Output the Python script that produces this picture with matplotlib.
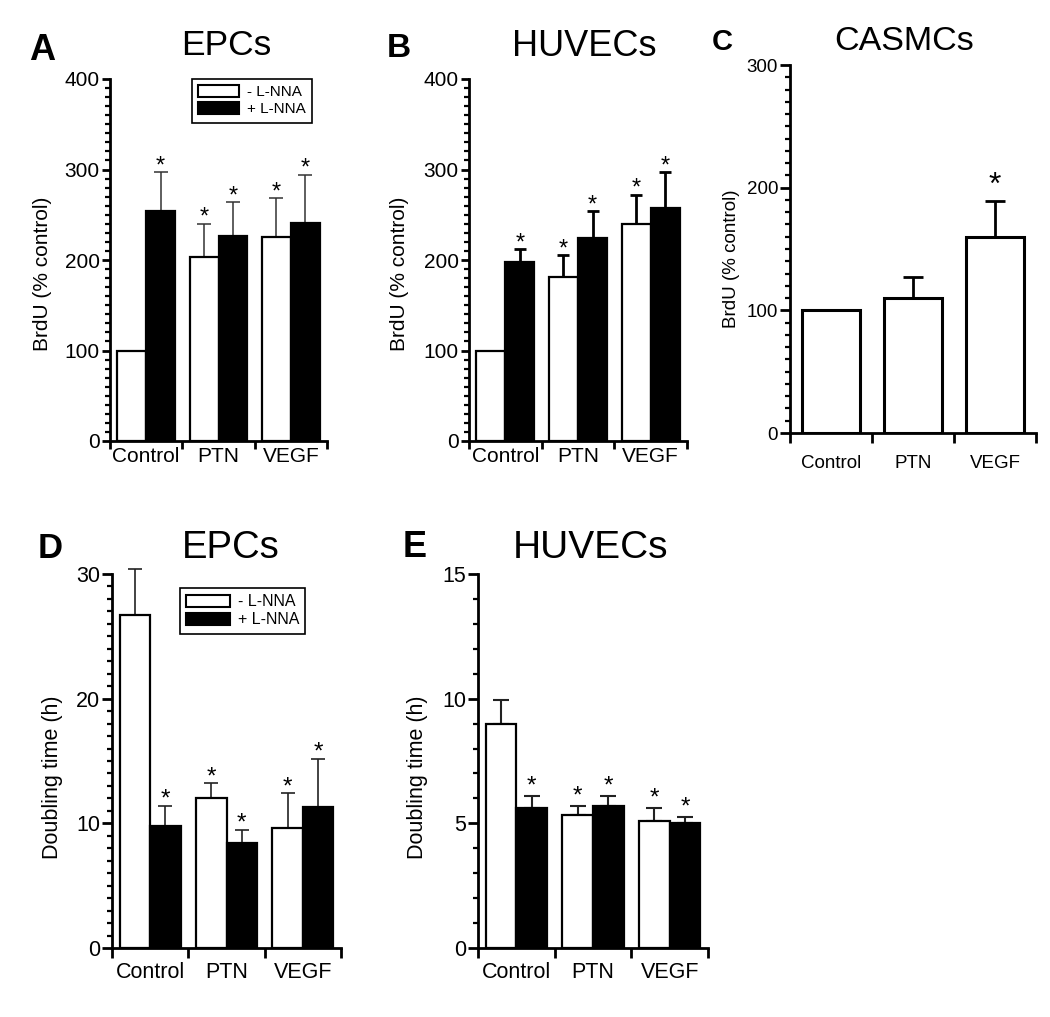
import matplotlib
matplotlib.use("Agg")
import matplotlib.pyplot as plt
from matplotlib.patches import Patch
from matplotlib.ticker import MultipleLocator, FixedLocator, FixedFormatter, NullFormatter
import numpy as np

plt.rcParams['font.family'] = ['Liberation Sans', 'DejaVu Sans']

categories = ["Control", "PTN", "VEGF"]
legend_labels = ["- L-NNA", "+ L-NNA"]

# Panel A: EPCs BrdU
A_minus = [100, 203, 225]
A_minus_err = [0, 37, 43]
A_plus = [254, 226, 241]
A_plus_err = [43, 38, 53]
A_minus_star = [False, True, True]
A_plus_star = [True, True, True]

# Panel B: HUVECs BrdU
B_minus = [100, 181, 240]
B_minus_err = [0, 24, 32]
B_plus = [198, 224, 257]
B_plus_err = [14, 30, 40]
B_minus_star = [False, True, True]
B_plus_star = [True, True, True]

# Panel C: CASMCs BrdU
C_vals = [100, 110, 160]
C_err = [0, 17, 29]
C_star = [False, False, True]

# Panel D: EPCs doubling time
D_minus = [26.7, 12.0, 9.6]
D_minus_err = [3.7, 1.2, 2.8]
D_plus = [9.8, 8.4, 11.3]
D_plus_err = [1.6, 1.1, 3.9]
D_minus_star = [False, True, True]
D_plus_star = [True, True, True]

# Panel E: HUVECs doubling time
E_minus = [9.0, 5.35, 5.1]
E_minus_err = [0.93, 0.33, 0.51]
E_plus = [5.6, 5.7, 5.0]
E_plus_err = [0.5, 0.4, 0.25]
E_minus_star = [False, True, True]
E_plus_star = [True, True, True]

W, H = 1050, 1017
fig = plt.figure(figsize=(W / 100, H / 100), dpi=100)


def add_ax(left, top, right, bottom):
    return fig.add_axes([left / W, 1 - bottom / H, (right - left) / W, (bottom - top) / H])


def style_axes(ax, ymax, ymajor, yminor, fs, xpad, ylabel, ylab_xy, tick_len=6):
    ax.set_xlim(0, 3)
    ax.set_ylim(0, ymax)
    for s in ['top', 'right']:
        ax.spines[s].set_visible(False)
    for s in ['left', 'bottom']:
        ax.spines[s].set_linewidth(2.0)
    ax.yaxis.set_major_locator(MultipleLocator(ymajor))
    ax.yaxis.set_minor_locator(MultipleLocator(yminor))
    ax.tick_params(axis='y', which='major', direction='out', length=tick_len, width=2.0,
                   labelsize=fs, pad=1.5)
    ax.tick_params(axis='y', which='minor', direction='out', length=tick_len * 0.55, width=1.6)
    ax.xaxis.set_major_locator(FixedLocator([0, 1, 2, 3]))
    ax.xaxis.set_major_formatter(NullFormatter())
    ax.xaxis.set_minor_locator(FixedLocator([0.5, 1.5, 2.5]))
    ax.xaxis.set_minor_formatter(FixedFormatter(categories))
    ax.tick_params(axis='x', which='major', direction='out', length=tick_len, width=2.0)
    ax.tick_params(axis='x', which='minor', length=0, labelsize=fs, pad=xpad)
    ax.set_ylabel(ylabel, fontsize=fs)
    ax.yaxis.label.set_va('center')
    ax.yaxis.set_label_coords(*ylab_xy)


def draw_stars(ax, xs, tops, flags, fs, off):
    for x, t, f in zip(xs, tops, flags):
        if f:
            ax.annotate('*', (x, t), xytext=(0, off), textcoords='offset points',
                        ha='center', va='baseline', fontsize=fs, annotation_clip=False)


def draw_err(ax, xs, vals, errs, elw, ecol, cap):
    vals = np.array(vals, float)
    errs = np.array(errs, float)
    m = errs > 0
    _, caps, bars = ax.errorbar(xs[m], vals[m], yerr=[np.zeros(m.sum()), errs[m]], fmt='none',
                                ecolor=ecol, elinewidth=elw, capsize=cap, capthick=elw, zorder=2)
    for c in caps:
        c.set_clip_on(False)
    for b in bars:
        b.set_clip_on(False)


def grouped(ax, minus, minus_err, plus, plus_err, mstar, pstar, elw, ecol, cap, bar_lw,
            star_fs, star_off):
    idx = np.arange(len(categories))
    xm = idx + 0.1
    xp = idx + 0.5
    w = 0.4
    ax.bar(xm, minus, width=w, align='edge', color='white', edgecolor='black', linewidth=bar_lw, zorder=3)
    ax.bar(xp, plus, width=w, align='edge', color='black', edgecolor='black', linewidth=bar_lw, zorder=3)
    draw_err(ax, xm + w / 2, minus, minus_err, elw, ecol, cap)
    draw_err(ax, xp + w / 2, plus, plus_err, elw, ecol, cap)
    draw_stars(ax, xm + w / 2, np.array(minus) + np.array(minus_err), mstar, star_fs, star_off)
    draw_stars(ax, xp + w / 2, np.array(plus) + np.array(plus_err), pstar, star_fs, star_off)


def add_legend(ax, x0, ytop, fs):
    handles = [Patch(facecolor='white', edgecolor='black', linewidth=1.5),
               Patch(facecolor='black', edgecolor='black', linewidth=1.5)]
    leg = ax.legend(handles, legend_labels, loc='upper left', bbox_to_anchor=(x0, ytop),
                    borderaxespad=0, fontsize=fs, frameon=True, fancybox=False,
                    handlelength=2.7, handleheight=0.8, labelspacing=0.2,
                    handletextpad=0.5, borderpad=0.4)
    fr = leg.get_frame()
    fr.set_edgecolor('black')
    fr.set_linewidth(1.2)
    fr.set_alpha(1)


# ---- Panel A ----
axA = add_ax(110, 79, 327, 441)
grouped(axA, A_minus, A_minus_err, A_plus, A_plus_err, A_minus_star, A_plus_star,
        elw=1.1, ecol='#333333', cap=5, bar_lw=1.6, star_fs=17, star_off=0)
style_axes(axA, 400, 100, 10, 15, 4, 'BrdU (% control)', (-0.309, 0.461))
add_legend(axA, 0.378, 1.0, 11)

# ---- Panel B ----
axB = add_ax(469, 79, 687, 441)
grouped(axB, B_minus, B_minus_err, B_plus, B_plus_err, B_minus_star, B_plus_star,
        elw=2.0, ecol='black', cap=4.5, bar_lw=1.6, star_fs=17, star_off=0)
style_axes(axB, 400, 100, 10, 15, 4, 'BrdU (% control)', (-0.317, 0.461))

# ---- Panel C ----
axC = add_ax(790, 65, 1036, 433)
idx = np.arange(len(categories))
axC.bar(idx + 0.15, C_vals, width=0.7, align='edge', color='white', edgecolor='black',
        linewidth=2.2, zorder=3)
draw_err(axC, idx + 0.5, C_vals, C_err, 2.0, 'black', 7)
draw_stars(axC, idx + 0.5, np.array(C_vals) + np.array(C_err), C_star, 23, 5)
style_axes(axC, 300, 100, 10, 13.5, 15.5, 'BrdU (% control)', (-0.236, 0.473), tick_len=7)

# ---- Panel D ----
axD = add_ax(112, 574, 341, 948)
grouped(axD, D_minus, D_minus_err, D_plus, D_plus_err, D_minus_star, D_plus_star,
        elw=1.2, ecol='#222222', cap=4.8, bar_lw=1.6, star_fs=17.5, star_off=0)
style_axes(axD, 30, 10, 1, 15.5, 10, 'Doubling time (h)', (-0.262, 0.457), tick_len=7)
add_legend(axD, 0.297, 0.963, 11.5)

# ---- Panel E ----
axE = add_ax(478, 574, 708, 948)
grouped(axE, E_minus, E_minus_err, E_plus, E_plus_err, E_minus_star, E_plus_star,
        elw=1.5, ecol='#222222', cap=6, bar_lw=1.6, star_fs=17.5, star_off=2.5)
style_axes(axE, 15, 5, 1, 15.5, 10, 'Doubling time (h)', (-0.261, 0.457), tick_len=7)

# ---- Titles and panel letters ----
def ftext(x, y, s, fs, bold=False, ha='center'):
    fig.text(x / W, 1 - y / H, s, fontsize=fs, ha=ha, va='baseline',
             fontweight='bold' if bold else 'normal')

ftext(226, 55, 'EPCs', 25.5)
ftext(584, 56, 'HUVECs', 26)
ftext(904, 50, 'CASMCs', 24.5)
ftext(231, 558, 'EPCs', 27.5)
ftext(590, 558, 'HUVECs', 28)

ftext(29, 60, 'A', 26, bold=True, ha='left')
ftext(387, 57, 'B', 24, bold=True, ha='left')
ftext(712, 50, 'C', 21, bold=True, ha='left')
ftext(38, 558, 'D', 25, bold=True, ha='left')
ftext(403, 557, 'E', 26, bold=True, ha='left')

fig.savefig('out.png', dpi=100)
